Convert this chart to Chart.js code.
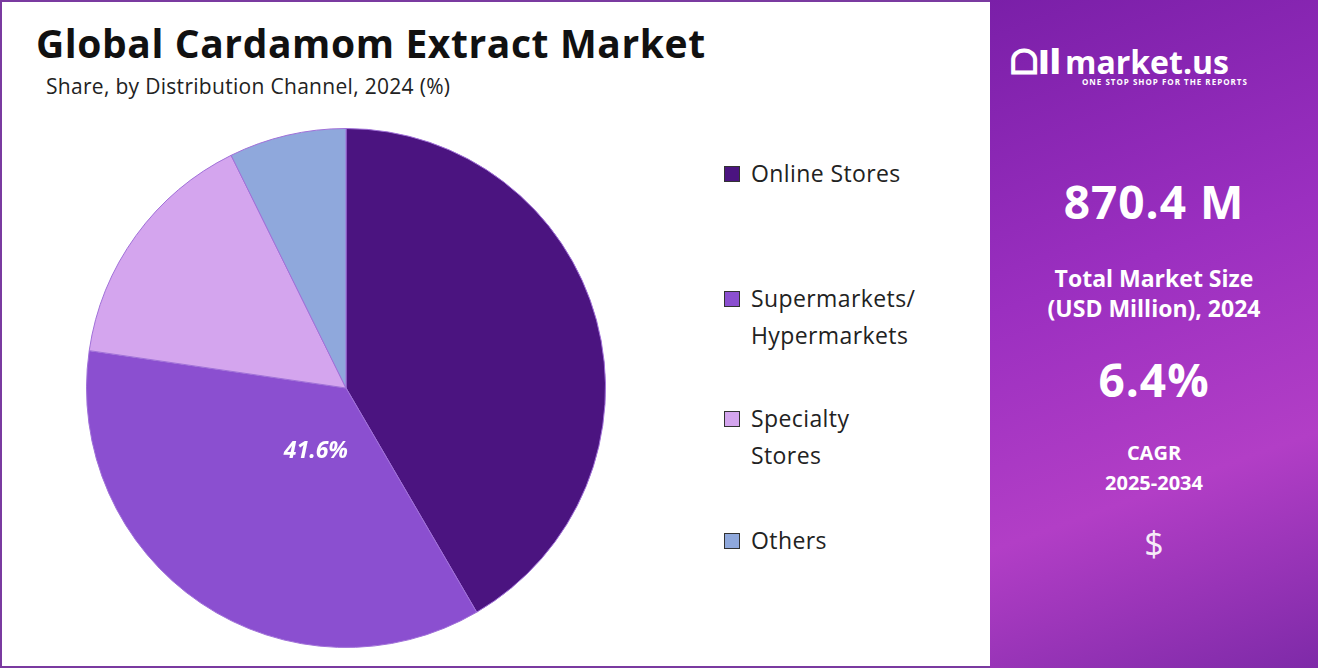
<!DOCTYPE html>
<html><head><meta charset="utf-8">
<script src="https://cdn.jsdelivr.net/npm/chart.js@4/dist/chart.umd.min.js"></script>
<style>
body{margin:0;width:1318px;height:668px;overflow:hidden;font-family:"Open Sans",Lato,sans-serif;background:#fff}
#frame{position:absolute;left:0;top:0;width:1314px;height:664px;border:2px solid #7a3aa0}
#title{position:absolute;left:36px;top:16px;font:700 39px "Open Sans",sans-serif;color:#111;letter-spacing:0.6px}
#sub{position:absolute;left:46px;top:72px;font:400 21px "Open Sans",sans-serif;color:#222;letter-spacing:0.3px}
#pie{position:absolute;left:86px;top:128px;width:520px;height:520px}
#legend{position:absolute;left:724px;top:155px;font:400 23px "Open Sans",sans-serif;color:#222;letter-spacing:0.4px}
.li{position:absolute;left:0;white-space:nowrap;line-height:37px}
.sw{position:absolute;left:0;width:16px;height:16px;top:11px}
.lt{position:absolute;left:27px}
#panel{position:absolute;left:990px;top:0;width:328px;height:668px;background:linear-gradient(160deg,#7a1fa8 0%,#9b2fc0 40%,#b23ec6 70%,#7e2aa8 100%);color:#fff;text-align:center}
#logo{position:absolute;left:20px;top:38px;width:300px;text-align:left}
.big{position:absolute;width:100%;font:700 46px "Open Sans",sans-serif;letter-spacing:1px}
.mid{position:absolute;width:100%;font:700 23px "Open Sans",sans-serif;line-height:30px}
</style></head><body>
<div id="frame"></div>
<div id="title">Global Cardamom Extract Market</div>
<div id="sub">Share, by Distribution Channel, 2024 (%)</div>
<div id="pie"><canvas id="c"></canvas></div>
<div id="legend"></div>
<div id="panel">
 <div id="logo"><span style="font:900 34px 'Open Sans';vertical-align:middle">ᗝIl</span> <span style="font:700 32px 'Open Sans';vertical-align:middle">market.us</span><div style="font:700 8px 'Open Sans';margin-left:72px;margin-top:-8px;letter-spacing:1px">ONE STOP SHOP FOR THE REPORTS</div></div>
 <div class="big" style="top:170px">870.4 M</div>
 <div class="mid" style="top:263px">Total Market Size<br>(USD Million), 2024</div>
 <div class="big" style="top:348px">6.4%</div>
 <div class="mid" style="top:438px;font-size:20px">CAGR<br>2025-2034</div>
 <div style="position:absolute;width:100%;top:520px;font:400 34px 'Open Sans';opacity:.9">$</div>
</div>
<script>
const categories=["Online Stores","Supermarkets/\nHypermarkets","Specialty\nStores","Others"];
const shares=[41.6,35.7,15.4,7.3];
const colors=["#4B1480","#8B4FD0","#D4A5EE","#8FA8DC"];
const labelIndex=1, labelText="41.6%";
const legendTops=[0,125,245,367];
const lg=document.getElementById('legend');
categories.forEach((c,i)=>{const d=document.createElement('div');d.className='li';d.style.top=legendTops[i]+'px';
d.innerHTML='<div class="sw" style="background:'+colors[i]+';border:1px solid #333;box-sizing:border-box"></div><div class="lt">'+c.replace('\n','<br>')+'</div>';lg.appendChild(d);});
const lbl={id:'lbl',afterDatasetsDraw(ch){const a=ch.getDatasetMeta(0).data[labelIndex];const m=(a.startAngle+a.endAngle)/2-0.15;const r=a.outerRadius*0.27;
const x=a.x+Math.cos(m)*r,y=a.y+Math.sin(m)*r;const g=ch.ctx;g.save();g.fillStyle='#fff';g.font='italic 700 23px "Open Sans"';g.textAlign='center';g.textBaseline='middle';g.fillText(labelText,x,y);g.restore();}};
new Chart(document.getElementById('c'),{type:'pie',data:{labels:categories,datasets:[{data:shares,backgroundColor:colors,borderColor:'#a070d8',borderWidth:1}]},
options:{responsive:true,maintainAspectRatio:false,animation:false,layout:{padding:0},plugins:{legend:{display:false},tooltip:{enabled:false}}},plugins:[lbl]});
</script></body></html>
